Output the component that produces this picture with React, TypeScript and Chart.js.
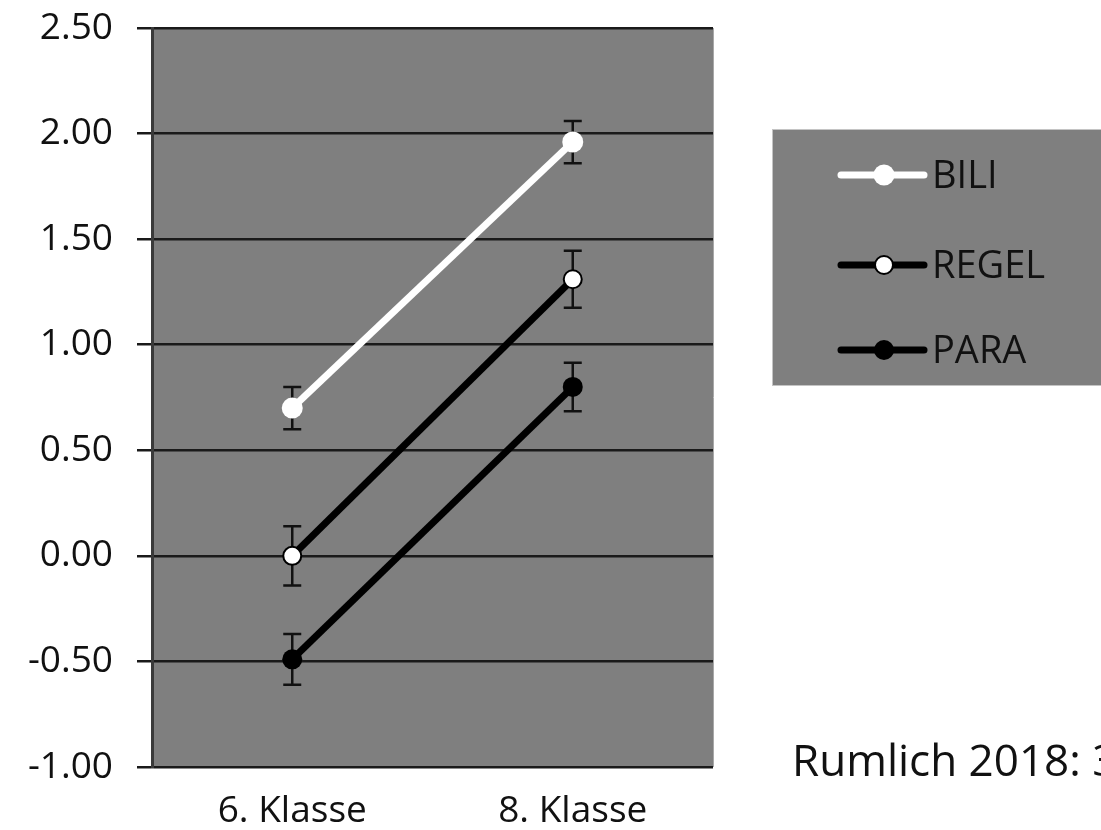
import React, { useEffect, useRef } from "react";
import { Chart, registerables } from "chart.js";

Chart.register(...registerables);

// Grade levels on the x axis
const categories = ["6. Klasse", "8. Klasse"];

// Group means per grade
const biliValues = [0.7, 1.96];
const regelValues = [0.0, 1.31];
const paraValues = [-0.49, 0.8];

// Half-widths of the error bars
const biliErrors = [0.1, 0.1];
const regelErrors = [0.14, 0.135];
const paraErrors = [0.12, 0.115];

const seriesNames = ["BILI", "REGEL", "PARA"];

const yMin = -1.0;
const yMax = 2.5;
const yStep = 0.5;

const sourceNote = "Rumlich 2018: 3";

const FONT = "'Open Sans', 'Liberation Sans', sans-serif";

const plotBackground = {
  id: "plotBackground",
  beforeDraw(chart: any) {
    const { ctx, chartArea } = chart;
    ctx.save();
    ctx.fillStyle = "#7f7f7f";
    ctx.fillRect(chartArea.left, chartArea.top, chartArea.right - chartArea.left, chartArea.bottom - chartArea.top);
    ctx.strokeStyle = "#a8a8a8";
    ctx.lineWidth = 1;
    ctx.beginPath();
    ctx.moveTo(chartArea.right + 0.5, chartArea.top);
    ctx.lineTo(chartArea.right + 0.5, chartArea.bottom);
    ctx.stroke();
    ctx.restore();
  },
};

const errorBars = {
  id: "errorBars",
  beforeDatasetsDraw(chart: any) {
    const { ctx } = chart;
    const xScale = chart.scales.x;
    const yScale = chart.scales.y;
    ctx.save();
    ctx.strokeStyle = "#111";
    ctx.lineWidth = 2.5;
    chart.data.datasets.forEach((ds: any) => {
      const errs: number[] = ds.errors || [];
      ds.data.forEach((v: number, i: number) => {
        const e = errs[i];
        if (e == null) return;
        const x = xScale.getPixelForValue(i);
        const yTop = yScale.getPixelForValue(v + e);
        const yBot = yScale.getPixelForValue(v - e);
        const cap = 9;
        ctx.beginPath();
        ctx.moveTo(x, yTop);
        ctx.lineTo(x, yBot);
        ctx.moveTo(x - cap, yTop);
        ctx.lineTo(x + cap, yTop);
        ctx.moveTo(x - cap, yBot);
        ctx.lineTo(x + cap, yBot);
        ctx.stroke();
      });
    });
    ctx.restore();
  },
};

const boxedLegend = {
  id: "boxedLegend",
  afterDraw(chart: any) {
    const { ctx } = chart;
    const boxX = 773;
    const boxY = 130;
    const boxW = 340;
    const boxH = 255;
    ctx.save();
    ctx.fillStyle = "#7f7f7f";
    ctx.fillRect(boxX, boxY, boxW, boxH);
    ctx.strokeStyle = "#c4c4c4";
    ctx.lineWidth = 1;
    ctx.strokeRect(boxX - 0.5, boxY - 0.5, boxW + 1, boxH + 1);

    const rows = [175, 265, 350];
    chart.data.datasets.forEach((ds: any, i: number) => {
      const y = rows[i];
      ctx.strokeStyle = ds.borderColor;
      ctx.lineWidth = 7;
      ctx.lineCap = "round";
      ctx.beginPath();
      ctx.moveTo(841, y);
      ctx.lineTo(924, y);
      ctx.stroke();
      ctx.beginPath();
      ctx.arc(884, y, ds.pointRadius, 0, Math.PI * 2);
      ctx.fillStyle = ds.pointBackgroundColor;
      ctx.fill();
      if (ds.pointBorderWidth > 0) {
        ctx.lineWidth = ds.pointBorderWidth;
        ctx.strokeStyle = ds.pointBorderColor;
        ctx.stroke();
      }
      ctx.fillStyle = "#111";
      ctx.font = `38px ${FONT}`;
      ctx.textAlign = "left";
      ctx.textBaseline = "middle";
      ctx.fillText(ds.label, 932, y + 2);
    });

    ctx.fillStyle = "#111";
    ctx.font = `44px ${FONT}`;
    ctx.textAlign = "left";
    ctx.textBaseline = "alphabetic";
    ctx.fillText(sourceNote, 792, 776);
    ctx.restore();
  },
};

export default function App() {
  const canvasRef = useRef<HTMLCanvasElement | null>(null);

  useEffect(() => {
    if (!canvasRef.current) return;
    const chart = new Chart(canvasRef.current, {
      type: "line",
      data: {
        labels: categories,
        datasets: [
          {
            label: seriesNames[0],
            data: biliValues,
            errors: biliErrors,
            borderColor: "#ffffff",
            borderWidth: 7,
            pointRadius: 10.5,
            pointBackgroundColor: "#ffffff",
            pointBorderColor: "#ffffff",
            pointBorderWidth: 0,
          } as any,
          {
            label: seriesNames[1],
            data: regelValues,
            errors: regelErrors,
            borderColor: "#000000",
            borderWidth: 7,
            pointRadius: 9,
            pointBackgroundColor: "#ffffff",
            pointBorderColor: "#000000",
            pointBorderWidth: 2,
          } as any,
          {
            label: seriesNames[2],
            data: paraValues,
            errors: paraErrors,
            borderColor: "#000000",
            borderWidth: 7,
            pointRadius: 10,
            pointBackgroundColor: "#000000",
            pointBorderColor: "#000000",
            pointBorderWidth: 0,
          } as any,
        ],
      },
      options: {
        animation: false,
        responsive: false,
        clip: false as any,
        layout: { padding: { top: 28, right: 388, left: 0, bottom: 0 } },
        plugins: {
          legend: { display: false },
          tooltip: { enabled: false },
        },
        scales: {
          x: {
            type: "category",
            offset: true,
            grid: { display: false },
            border: { display: false },
            ticks: {
              color: "#111",
              font: { family: FONT, size: 37 },
              padding: 14,
              maxRotation: 0,
            },
            afterFit(scale: any) {
              scale.height = 63;
              scale.paddingLeft = 0;
              scale.paddingRight = 0;
            },
          },
          y: {
            min: yMin,
            max: yMax,
            grid: { color: "#1a1a1a", lineWidth: 2.5, tickLength: 15 },
            border: { color: "#3a3a3a", width: 3 },
            ticks: {
              stepSize: yStep,
              color: "#111",
              font: { family: FONT, size: 37 },
              padding: 24,
              callback: (v: any) => Number(v).toFixed(2),
            },
            afterFit(scale: any) {
              scale.width = 152;
              scale.paddingTop = 0;
              scale.paddingBottom = 0;
            },
          },
        },
      },
      plugins: [plotBackground, errorBars, boxedLegend],
    });
    return () => chart.destroy();
  }, []);

  return (
    <div style={{ position: "fixed", left: 0, top: 0, width: 1101, height: 830, background: "#fff" }}>
      <canvas ref={canvasRef} width={1101} height={830} />
    </div>
  );
}
